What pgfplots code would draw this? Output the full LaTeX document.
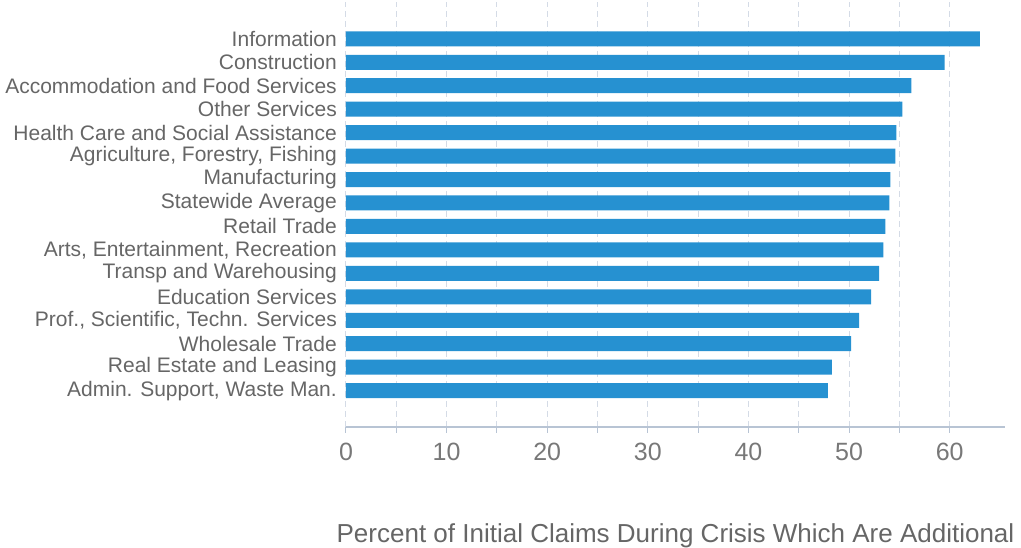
\documentclass[border=0pt]{standalone}
\usepackage{pgfplots}
\pgfplotsset{compat=1.18}
\usepackage{fontspec}
\setmainfont{Liberation Sans}
\definecolor{barblue}{RGB}{38,145,209}
\definecolor{gridc}{RGB}{212,219,230}
\definecolor{axisc}{RGB}{184,196,212}
\definecolor{labc}{RGB}{102,102,102}
\definecolor{tickc}{RGB}{120,120,120}
\begin{document}
\begin{tikzpicture}[x=1pt,y=1pt]
\useasboundingbox (0,0) rectangle (1021,548);
\begin{axis}[
  at={(346pt,121pt)}, anchor=south west,
  scale only axis, width=659pt, height=425pt,
  xmin=0, xmax=65.5, ymin=-1.55, ymax=16.57,
  xbar, bar width=15pt,
  axis x line=bottom, axis y line=left,
  y axis line style={draw=none}, x axis line style={draw=axisc, line width=1.3pt, -},
  xtick={0,10,...,60}, minor xtick={5,15,...,55},
  tick align=outside, xtick pos=bottom,
  major tick length=6pt, minor tick length=6pt,
  every tick/.style={draw=axisc, line width=1pt},
  major y tick style={draw=none},
  xmajorgrids, xminorgrids,
  major grid style={draw=gridc, line width=1pt, dash pattern=on 6pt off 4pt},
  minor grid style={draw=gridc, line width=1pt, dash pattern=on 6pt off 4pt},
  ytick={0,...,15},
  yticklabels={{Admin. Support, Waste Man.},Real Estate and Leasing,Wholesale Trade,{Prof., Scientific, Techn. Services},Education Services,Transp and Warehousing,{Arts, Entertainment, Recreation},Retail Trade,Statewide Average,Manufacturing,{Agriculture, Forestry, Fishing},Health Care and Social Assistance,Other Services,Accommodation and Food Services,Construction,Information},
  yticklabel style={font=\fontsize{21}{23}\selectfont, text=labc, inner sep=0pt, anchor=east, xshift=-3pt},
  xticklabel style={font=\fontsize{25}{28}\selectfont, text=tickc, inner sep=0pt, anchor=north, yshift=-10pt},
  /pgf/number format/assume math mode=true,
  xlabel={Percent of Initial Claims During Crisis Which Are Additional},
  xlabel style={font=\fontsize{26}{29}\selectfont, text=labc, at={(axis description cs:0.5,0)}, anchor=north, inner sep=0pt, yshift=-96pt},
]
\addplot[fill=barblue, draw=none] coordinates {
(47.9,0) (48.3,1) (50.2,2) (51.0,3) (52.2,4) (53.0,5) (53.4,6) (53.6,7) (54.0,8) (54.1,9) (54.6,10) (54.7,11) (55.3,12) (56.2,13) (59.5,14) (63.0,15)};
\end{axis}
\end{tikzpicture}
\end{document}
